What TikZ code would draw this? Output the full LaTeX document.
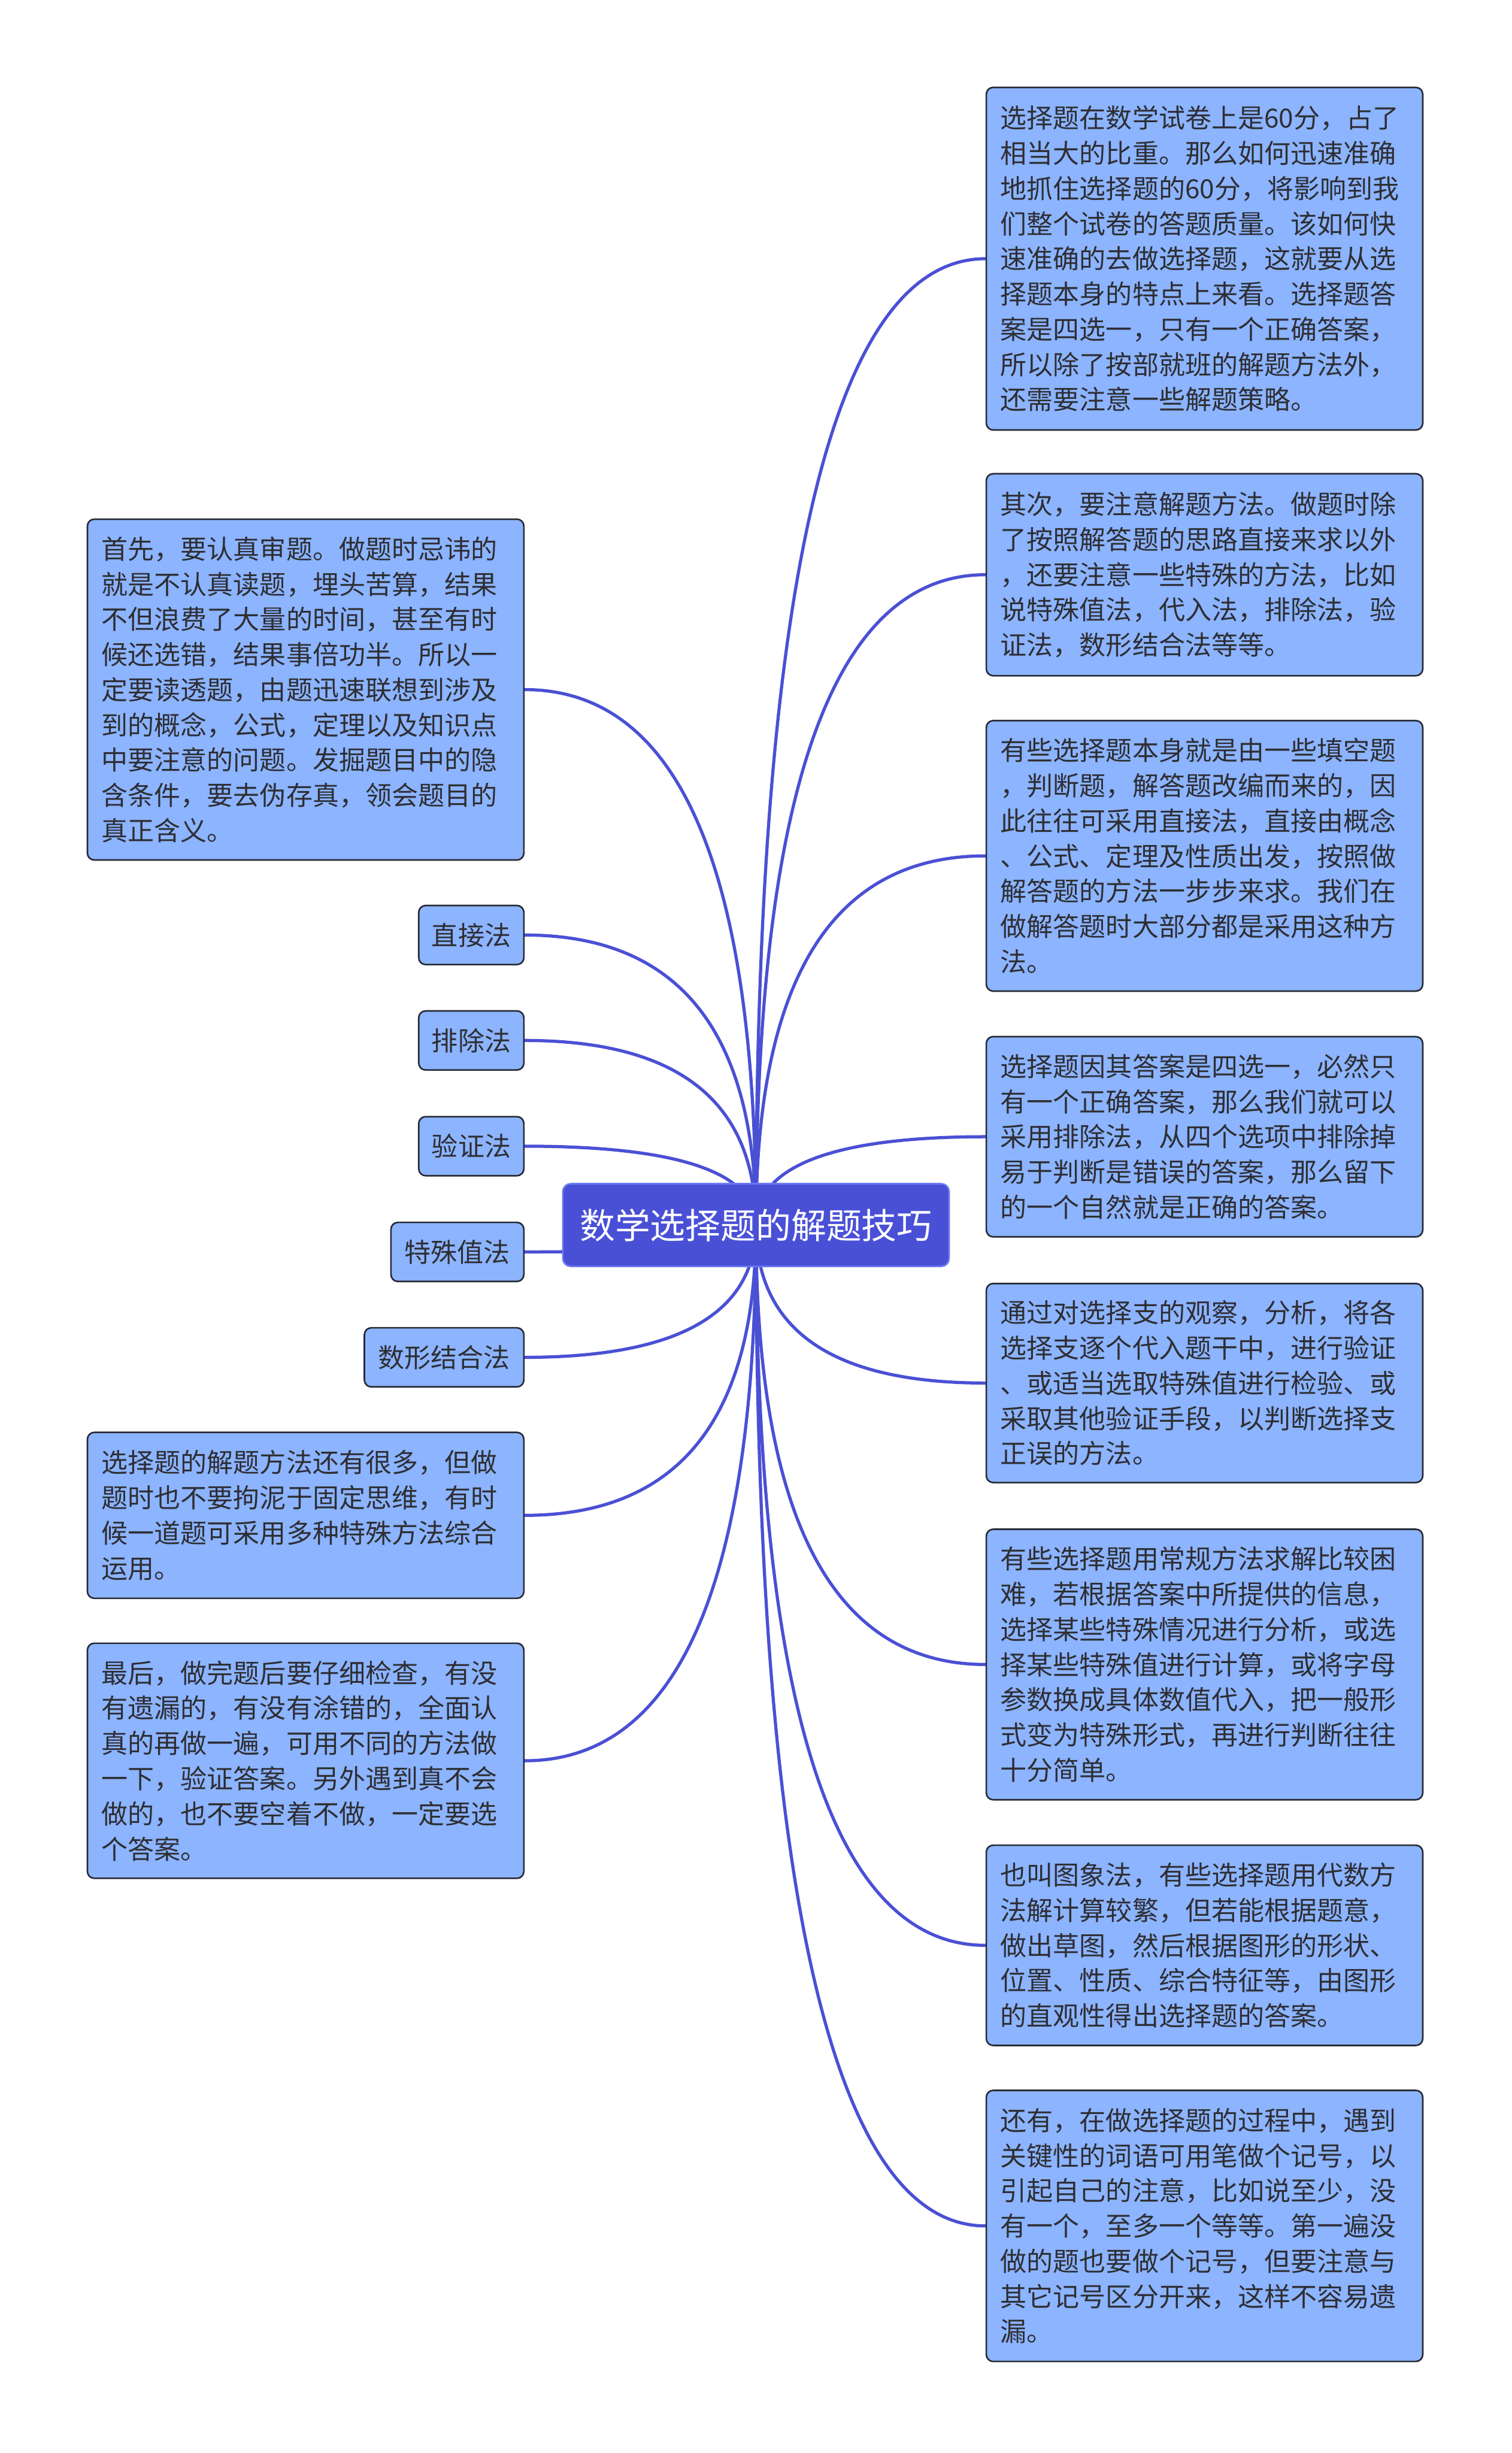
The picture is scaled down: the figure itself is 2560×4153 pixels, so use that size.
\documentclass[tikz,border=0pt]{standalone}
\usepackage{fontspec}
\setmainfont{Noto Sans CJK SC}
\usetikzlibrary{backgrounds,calc}
\definecolor{boxfill}{HTML}{8CB4FF}
\definecolor{boxborder}{HTML}{262A33}
\definecolor{boxtext}{HTML}{2E2E33}
\definecolor{linkc}{HTML}{4A50D4}
\definecolor{centerfill}{HTML}{4A50D6}
\definecolor{centerdraw}{HTML}{6C7AF2}
\newcommand{\leaffont}{\fontsize{13.4pt}{17.88pt}\selectfont}
\begin{document}
\begin{tikzpicture}[x=0.3pt,y=-0.3pt,
  leaf/.style={draw=boxborder, line width=0.8pt, fill=boxfill, rounded corners=3.5pt,
    text=boxtext, font=\leaffont, inner sep=0pt},
  bigleaf/.style={leaf, minimum width=221.7pt, text width=207.3pt, align=left},
  smallleaf/.style={leaf, minimum height=30pt, align=center},
  rootnode/.style={draw=centerdraw, line width=0.8pt, fill=centerfill, rounded corners=4pt,
    text=white, font=\fontsize{17.9pt}{20pt}\selectfont, inner sep=0pt,
    minimum width=196.2pt, minimum height=42pt},
  link/.style={draw=linkc, line width=1.6pt}
]
\useasboundingbox (0,0) rectangle (2560,4153);

\node[rootnode] (C) at (1280,2074) {数学选择题的解题技巧};

% right side
\node[bigleaf, minimum height=174pt] (R1) at (2039.5,438) {选择题在数学试卷上是60分，占了\\相当大的比重。那么如何迅速准确\\地抓住选择题的60分，将影响到我\\们整个试卷的答题质量。该如何快\\速准确的去做选择题，这就要从选\\择题本身的特点上来看。选择题答\\案是四选一，只有一个正确答案，\\所以除了按部就班的解题方法外，\\还需要注意一些解题策略。};
\node[bigleaf, minimum height=102.6pt] (R2) at (2039.5,973) {其次，要注意解题方法。做题时除\\了按照解答题的思路直接来求以外\\，还要注意一些特殊的方法，比如\\说特殊值法，代入法，排除法，验\\证法，数形结合法等等。};
\node[bigleaf, minimum height=137.4pt] (R3) at (2039.5,1449) {有些选择题本身就是由一些填空题\\，判断题，解答题改编而来的，因\\此往往可采用直接法，直接由概念\\、公式、定理及性质出发，按照做\\解答题的方法一步步来求。我们在\\做解答题时大部分都是采用这种方\\法。};
\node[bigleaf, minimum height=101.7pt] (R4) at (2039.5,1924.5) {选择题因其答案是四选一，必然只\\有一个正确答案，那么我们就可以\\采用排除法，从四个选项中排除掉\\易于判断是错误的答案，那么留下\\的一个自然就是正确的答案。};
\node[bigleaf, minimum height=101.1pt] (R5) at (2039.5,2341.5) {通过对选择支的观察，分析，将各\\选择支逐个代入题干中，进行验证\\、或适当选取特殊值进行检验、或\\采取其他验证手段，以判断选择支\\正误的方法。};
\node[bigleaf, minimum height=137.4pt] (R6) at (2039.5,2818) {有些选择题用常规方法求解比较困\\难，若根据答案中所提供的信息，\\选择某些特殊情况进行分析，或选\\择某些特殊值进行计算，或将字母\\参数换成具体数值代入，把一般形\\式变为特殊形式，再进行判断往往\\十分简单。};
\node[bigleaf, minimum height=101.7pt] (R7) at (2039.5,3293.5) {也叫图象法，有些选择题用代数方\\法解计算较繁，但若能根据题意，\\做出草图，然后根据图形的形状、\\位置、性质、综合特征等，由图形\\的直观性得出选择题的答案。};
\node[bigleaf, minimum height=137.7pt] (R8) at (2039.5,3768.5) {还有，在做选择题的过程中，遇到\\关键性的词语可用笔做个记号，以\\引起自己的注意，比如说至少，没\\有一个，至多一个等等。第一遍没\\做的题也要做个记号，但要注意与\\其它记号区分开来，这样不容易遗\\漏。};

% left side
\node[bigleaf, minimum height=173.1pt] (L1) at (517.5,1167.5) {首先，要认真审题。做题时忌讳的\\就是不认真读题，埋头苦算，结果\\不但浪费了大量的时间，甚至有时\\候还选错，结果事倍功半。所以一\\定要读透题，由题迅速联想到涉及\\到的概念，公式，定理以及知识点\\中要注意的问题。发掘题目中的隐\\含条件，要去伪存真，领会题目的\\真正含义。};
\node[smallleaf, minimum width=53.4pt] (La) at (798,1583) {直接法};
\node[smallleaf, minimum width=53.4pt] (Lb) at (798,1761.5) {排除法};
\node[smallleaf, minimum width=53.4pt] (Lc) at (798,1940.5) {验证法};
\node[smallleaf, minimum width=67.5pt] (Ld) at (774.5,2119.5) {特殊值法};
\node[smallleaf, minimum width=81pt] (Le) at (752,2298) {数形结合法};
\node[bigleaf, minimum height=84.3pt] (L2) at (517.5,2565.5) {选择题的解题方法还有很多，但做\\题时也不要拘泥于固定思维，有时\\候一道题可采用多种特殊方法综合\\运用。};
\node[bigleaf, minimum height=119.4pt] (L3) at (517.5,2981) {最后，做完题后要仔细检查，有没\\有遗漏的，有没有涂错的，全面认\\真的再做一遍，可用不同的方法做\\一下，验证答案。另外遇到真不会\\做的，也不要空着不做，一定要选\\个答案。};

\begin{pgfonlayer}{background}
\fill[white] (0,0) rectangle (2560,4153);
\foreach \n in {R1,R2,R3,R4,R5,R6,R7,R8} {
  \coordinate (k) at (C.center |- \n.west);
  \draw[link] (C.center) .. controls ($(C.center)!0.6667!(k)$) and ($(\n.west)!0.6667!(k)$) .. (\n.west);
}
\foreach \n in {L1,La,Lb,Lc,Ld,Le,L2,L3} {
  \coordinate (k) at (C.center |- \n.east);
  \draw[link] (C.center) .. controls ($(C.center)!0.6667!(k)$) and ($(\n.east)!0.6667!(k)$) .. (\n.east);
}
\end{pgfonlayer}
\end{tikzpicture}
\end{document}
